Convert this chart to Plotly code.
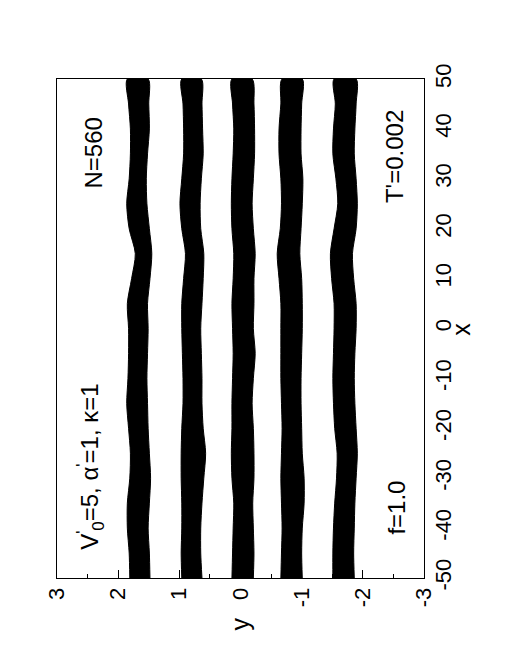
import plotly.graph_objects as go

# positions along the channel (data x)
x_nodes = [-50, -45, -40, -35, -30, -25, -20, -15, -10, -5, 0,
           5, 10, 15, 20, 25, 30, 35, 40, 45, 50]

# band edges (data y): upper edge and lower edge of each particle lane
band1_hi = [1.81, 1.82, 1.85, 1.85, 1.81, 1.80, 1.83, 1.86, 1.84, 1.83, 1.83,
            1.85, 1.78, 1.72, 1.82, 1.86, 1.82, 1.80, 1.80, 1.83, 1.85]
band1_lo = [1.48, 1.49, 1.51, 1.49, 1.47, 1.49, 1.51, 1.52, 1.53, 1.52, 1.51,
            1.52, 1.48, 1.45, 1.49, 1.53, 1.54, 1.52, 1.49, 1.50, 1.51]
band2_hi = [0.96, 0.97, 0.96, 0.96, 0.97, 0.97, 0.96, 0.94, 0.94, 0.95, 0.96,
            0.96, 0.93, 0.90, 0.96, 0.99, 0.96, 0.93, 0.93, 0.94, 0.96]
band2_lo = [0.63, 0.65, 0.65, 0.63, 0.60, 0.57, 0.61, 0.63, 0.63, 0.64, 0.65,
            0.63, 0.61, 0.60, 0.65, 0.66, 0.64, 0.61, 0.62, 0.63, 0.64]
band3_hi = [0.14, 0.13, 0.12, 0.11, 0.14, 0.15, 0.14, 0.14, 0.13, 0.12, 0.13,
            0.14, 0.12, 0.11, 0.14, 0.15, 0.14, 0.12, 0.11, 0.13, 0.14]
band3_lo = [-0.21, -0.22, -0.21, -0.20, -0.22, -0.22, -0.21, -0.19, -0.21, -0.24, -0.21,
            -0.22, -0.22, -0.24, -0.21, -0.19, -0.21, -0.23, -0.23, -0.22, -0.19]
band4_hi = [-0.66, -0.67, -0.68, -0.67, -0.66, -0.67, -0.68, -0.67, -0.66, -0.66, -0.66,
            -0.66, -0.63, -0.60, -0.65, -0.67, -0.66, -0.63, -0.63, -0.66, -0.68]
band4_lo = [-1.01, -1.00, -1.01, -1.04, -1.04, -1.01, -1.00, -0.99, -0.99, -1.00, -1.01,
            -1.01, -1.00, -0.97, -0.99, -1.01, -1.02, -0.99, -0.99, -1.00, -1.01]
band5_hi = [-1.51, -1.51, -1.52, -1.54, -1.57, -1.58, -1.54, -1.52, -1.51, -1.52, -1.53,
            -1.53, -1.49, -1.47, -1.53, -1.59, -1.56, -1.51, -1.52, -1.55, -1.53]
band5_lo = [-1.86, -1.85, -1.86, -1.87, -1.89, -1.91, -1.89, -1.87, -1.86, -1.87, -1.89,
            -1.89, -1.85, -1.83, -1.89, -1.91, -1.89, -1.86, -1.87, -1.89, -1.89]

bands = [(band1_hi, band1_lo), (band2_hi, band2_lo), (band3_hi, band3_lo),
         (band4_hi, band4_lo), (band5_hi, band5_lo)]

y_ticks = [3, 2, 1, 0, -1, -2, -3]
y_ticklabels = ["3", "2", "1", "0", "-1", "-2", "-3"]
x_ticks = [-50, -40, -30, -20, -10, 0, 10, 20, 30, 40, 50]
x_ticklabels = ["-50", "-40", "-30", "-20", "-10", "0", "10", "20", "30", "40", "50"]

FONT = "Liberation Sans, Arial, sans-serif"

fig = go.Figure()
# The figure is drawn rotated by 90 degrees: data y runs horizontally (3 -> -3),
# data x runs vertically (-50 bottom -> 50 top).
for hi, lo in bands:
    fig.add_trace(go.Scatter(
        x=hi + lo[::-1],
        y=x_nodes + x_nodes[::-1],
        mode="lines",
        line=dict(color="black", width=1, shape="spline", smoothing=0.8),
        fill="toself",
        fillcolor="black",
        hoverinfo="skip",
        showlegend=False,
    ))

fig.update_layout(
    width=510, height=662,
    margin=dict(l=49, r=94, t=71, b=92),
    paper_bgcolor="white", plot_bgcolor="white",
    font=dict(family=FONT, size=22, color="black"),
    showlegend=False,
)

fig.update_xaxes(
    range=[3, -3],
    tickvals=y_ticks, ticktext=y_ticklabels,
    tickangle=-90,
    ticks="inside", ticklen=8, tickwidth=1, tickcolor="black",
    minor=dict(ticks="inside", ticklen=4, tickwidth=1, tickcolor="black", dtick=0.5),
    showline=True, linecolor="black", linewidth=1, mirror=True,
    showgrid=False, zeroline=False,
    tickfont=dict(family=FONT, size=22),
)
fig.update_yaxes(
    range=[-50, 50],
    side="right",
    tickvals=x_ticks, ticktext=x_ticklabels,
    tickangle=-90,
    ticks="",
    showline=True, linecolor="black", linewidth=1, mirror=True,
    showgrid=False, zeroline=False,
    tickfont=dict(family=FONT, size=22),
)

annotations = [
    dict(x=2.40, y=35.2, text="N=560"),
    dict(x=-2.53, y=34.4, text="T'=0.002"),
    dict(x=2.45, y=-27.8, text="V<sup>'</sup><sub>0</sub>=5, α<sup>'</sup>=1, κ=1"),
    dict(x=-2.55, y=-35.8, text="f=1.0"),
]
for a in annotations:
    fig.add_annotation(x=a["x"], y=a["y"], xref="x", yref="y", text=a["text"],
                       textangle=-90, showarrow=False,
                       font=dict(family=FONT, size=24, color="black"))

fig.add_annotation(x=1.144, y=0.499, xref="paper", yref="paper", text="x",
                   textangle=-90, showarrow=False,
                   font=dict(family=FONT, size=25, color="black"))
fig.add_annotation(x=0.499, y=-0.110, xref="paper", yref="paper", text="y",
                   textangle=-90, showarrow=False,
                   font=dict(family=FONT, size=25, color="black"))

fig.write_html("out.html")
